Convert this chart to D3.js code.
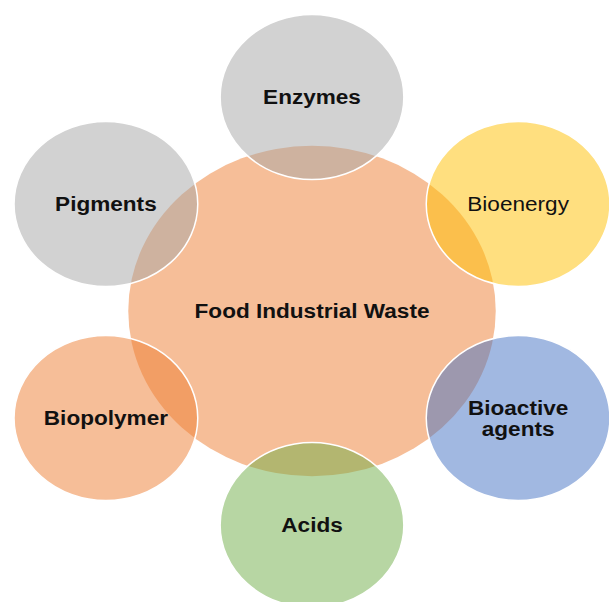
<!DOCTYPE html>
<html>
<head>
<meta charset="utf-8">
<script src="https://cdn.jsdelivr.net/npm/d3@7"></script>
<style>
    html, body { margin: 0; padding: 0; background: #fff; }
    svg { display: block; }
    text { font-family: "Liberation Sans", Arial, sans-serif; fill: #111; }
</style>
</head>
<body>
<svg id="chart" width="609" height="602"></svg>
<script>
let centerLabel = 'Food Industrial Waste';
let centerColor = '#ED7D31';

// clockwise from the top
let labels = [
    ['Enzymes'],
    ['Bioenergy'],
    ['Bioactive', 'agents'],
    ['Acids'],
    ['Biopolymer'],
    ['Pigments'],
];
let colors = ['#A5A5A5', '#FFC000', '#4472C4', '#70AD47', '#ED7D31', '#A5A5A5'];
let boldLabels = [true, false, true, true, true, true];

let width = 609,
    height = 602;

let svg = d3.select('#chart');

// the picture is a little wider than tall, so x and y get their own scale
let x = d3.scaleLinear().domain([-1, 1]).range([74, 550]);
let y = d3.scaleLinear().domain([-1, 1]).range([97, 525]);
let rx = r => x(r) - x(0);
let ry = r => y(r) - y(0);
let stretch = 1.075;

let hubR = 0.772,
    nodeR = 0.386;

let angle = d3.scaleLinear().domain([0, labels.length]).range([-Math.PI / 2, Math.PI * 1.5]);

let nodes = labels.map((lines, i) => ({
    lines: lines,
    color: colors[i],
    bold: boldLabels[i],
    ux: Math.cos(angle(i)),
    uy: Math.sin(angle(i)),
}));

svg.append('ellipse')
    .attr('cx', x(0))
    .attr('cy', y(0))
    .attr('rx', rx(hubR))
    .attr('ry', ry(hubR))
    .attr('fill', centerColor)
    .attr('fill-opacity', 0.5);

svg.selectAll('ellipse.node')
    .data(nodes)
    .enter().append('ellipse')
    .attr('class', 'node')
    .attr('cx', d => x(d.ux))
    .attr('cy', d => y(d.uy))
    .attr('rx', rx(nodeR))
    .attr('ry', ry(nodeR))
    .attr('fill', d => d.color)
    .attr('fill-opacity', 0.5)
    .attr('stroke', '#fff')
    .attr('stroke-width', 1.5);

let lineH = 21;

function label(g, lines, bold) {
    let t = g.append('text')
        .attr('text-anchor', 'middle')
        .style('font-size', '21px')
        .style('font-weight', bold ? 'bold' : 'normal');
    let top = -(lines.length - 1) * lineH / 2;
    lines.forEach((line, j) => {
        t.append('tspan')
            .attr('x', 0)
            .attr('y', top + j * lineH)
            .attr('dominant-baseline', 'central')
            .text(line);
    });
}

svg.append('g')
    .attr('transform', `translate(${x(0)},${y(0)}) scale(${stretch},1)`)
    .call(label, [centerLabel], true);

svg.selectAll('g.node')
    .data(nodes)
    .enter().append('g')
    .attr('class', 'node')
    .attr('transform', d => `translate(${x(d.ux)},${y(d.uy)}) scale(${stretch},1)`)
    .each(function (d) {
        label(d3.select(this), d.lines, d.bold);
    });
</script>
</body>
</html>
